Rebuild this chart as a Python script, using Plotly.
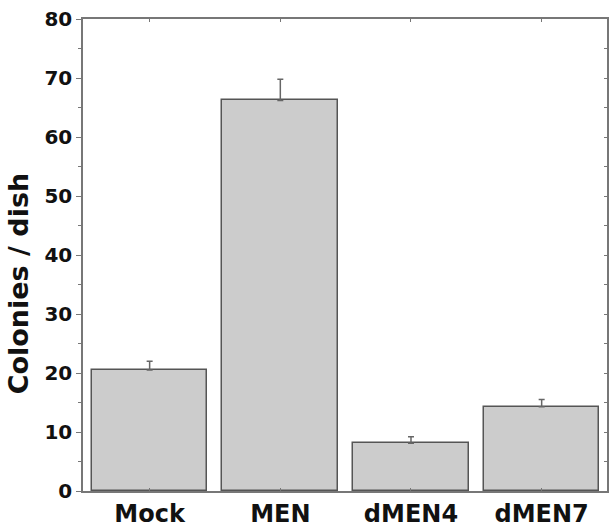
import plotly.graph_objects as go

categories = ["Mock", "MEN", "dMEN4", "dMEN7"]
values = [20.5, 66.2, 8.1, 14.3]
errors = [1.5, 3.6, 1.1, 1.2]
y_ticks = [0, 10, 20, 30, 40, 50, 60, 70, 80]
y_title = "Colonies / dish"

axis_color = "#777777"
FAM = "DejaVu Sans, Liberation Sans, Arial, sans-serif"

fig = go.Figure()
fig.add_trace(go.Bar(
    x=categories, y=values, width=0.885,
    marker=dict(color="#cccccc", line=dict(color="#555555", width=1.5)),
    error_y=dict(type="data", array=errors, symmetric=False, arrayminus=[0]*4,
                 color="#666666", thickness=1.5, width=3),
    showlegend=False,
))
# invisible trace on mirrored axes
fig.add_trace(go.Scatter(x=categories, y=values, xaxis="x2", yaxis="y2",
                         mode="markers", marker=dict(opacity=0), showlegend=False,
                         hoverinfo="skip"))

fig.add_annotation(text=y_title, xref="paper", yref="paper", x=-0.124, y=0.44,
                   textangle=-90, showarrow=False, xanchor="center", yanchor="middle",
                   font=dict(family=FAM, size=27, color="#111111", weight="bold"))

fig.update_layout(
    width=609, height=529,
    margin=dict(l=83, r=2, t=19, b=38),
    plot_bgcolor="white", paper_bgcolor="white",
    bargap=0,
    xaxis=dict(type="category", categoryarray=categories, range=[-0.51, 3.5],
               showline=True, linecolor=axis_color, linewidth=1.5,
               ticks="inside", ticklen=3, tickcolor=axis_color, tickwidth=1,
               tickfont=dict(family=FAM, size=24, color="#111111", weight="bold"),
               showgrid=False, zeroline=False, automargin=False),
    yaxis=dict(range=[0, 80], tickvals=y_ticks, ticktext=[str(v) for v in y_ticks],
               showline=True, linecolor=axis_color, linewidth=1.5,
               ticks="outside", ticklen=5, tickcolor=axis_color, tickwidth=1,
               minor=dict(ticks="outside", ticklen=3, dtick=5, tickcolor=axis_color, tickwidth=1),
               tickfont=dict(family=FAM, size=20, color="#111111", weight="bold"),
               showgrid=False, zeroline=False, automargin=False),
    xaxis2=dict(type="category", categoryarray=categories, range=[-0.51, 3.5],
                overlaying="x", side="top", showline=True, linecolor=axis_color, linewidth=1.5,
                ticks="inside", ticklen=3, tickcolor=axis_color, showticklabels=False,
                showgrid=False, zeroline=False, automargin=False),
    yaxis2=dict(range=[0, 80], overlaying="y", side="right", showline=True,
                linecolor=axis_color, linewidth=1.5, ticks="inside", ticklen=3,
                dtick=5, tick0=0, tickcolor=axis_color, showticklabels=False,
                showgrid=False, zeroline=False, automargin=False),
)

fig.write_html("out.html", config={"displayModeBar": False},
               post_script="document.body.style.margin='0';document.body.style.padding='0';")
